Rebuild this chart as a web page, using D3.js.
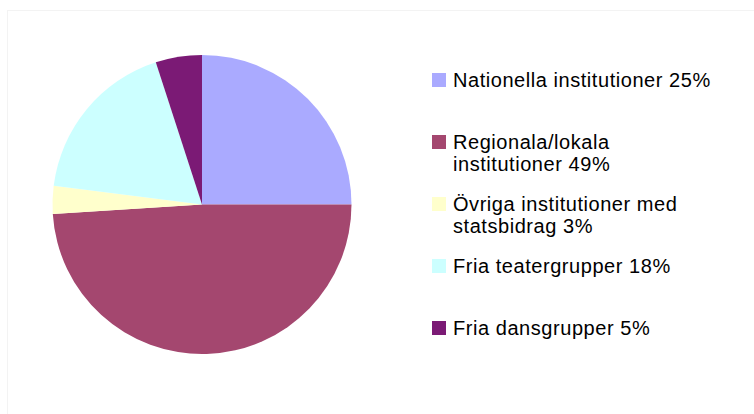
<!DOCTYPE html>
<html>
<head>
<meta charset="utf-8">
<script src="https://cdn.jsdelivr.net/npm/d3@7"></script>
<style>
    body { margin: 0; background: #fff; }
    svg text { font-family: "Liberation Sans", Arial, sans-serif; fill: #000; }
</style>
</head>
<body>
<div id="chart"></div>
<script>
// 数据
const categories = [
    "Nationella institutioner",
    "Regionala/lokala institutioner",
    "Övriga institutioner med statsbidrag",
    "Fria teatergrupper",
    "Fria dansgrupper"
];
const shares = [25, 49, 3, 18, 5];
// 图例的换行方式
const legendLines = [
    ["Nationella institutioner 25%"],
    ["Regionala/lokala", "institutioner 49%"],
    ["Övriga institutioner med", "statsbidrag 3%"],
    ["Fria teatergrupper 18%"],
    ["Fria dansgrupper 5%"]
];
const colors = ["#aaaaff", "#a4476f", "#ffffcc", "#ccffff", "#7b1a75"];

// 尺寸
const width = 754, height = 414;
const cx = 202, cy = 204.5, radius = 149.5;

const svg = d3.select("#chart").append("svg")
    .attr("width", width)
    .attr("height", height);

// 外框（很淡）
svg.append("rect")
    .attr("x", 7.5)
    .attr("y", 10.5)
    .attr("width", width)
    .attr("height", height)
    .attr("fill", "none")
    .attr("stroke", "#f3f3f3");

// 饼图
const color = d3.scaleOrdinal().domain(categories).range(colors);
const pie = d3.pie().sort(null).value(function (d, i) { return shares[i]; });
const arc = d3.arc().innerRadius(0).outerRadius(radius);

svg.append("g")
    .attr("transform", "translate(" + cx + "," + cy + ")")
    .selectAll("path")
    .data(pie(categories))
    .enter()
    .append("path")
    .attr("d", arc)
    .attr("fill", function (d) { return color(d.data); });

// 图例
const legendY = d3.scalePoint()
    .domain(categories)
    .range([73, 321]);

const legend = svg.append("g")
    .selectAll("g")
    .data(categories)
    .enter()
    .append("g")
    .attr("transform", function (d) { return "translate(432," + legendY(d) + ")"; });

legend.append("rect")
    .attr("width", 14)
    .attr("height", 14)
    .attr("fill", function (d) { return color(d); });

legend.append("text")
    .attr("x", 21)
    .attr("y", 14)
    .style("font-size", "20px")
    .style("letter-spacing", "0.55px")
    .selectAll("tspan")
    .data(function (d, i) { return legendLines[i]; })
    .enter()
    .append("tspan")
    .attr("x", 21)
    .attr("dy", function (d, i) { return i === 0 ? 0 : 21.5; })
    .text(function (d) { return d; });
</script>
</body>
</html>
